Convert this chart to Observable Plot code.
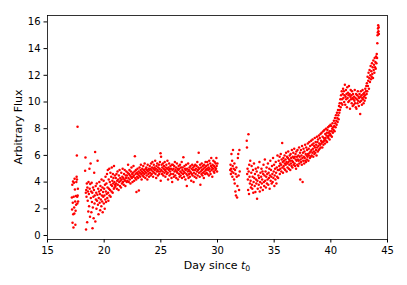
<!DOCTYPE html>
<html><head><meta charset="utf-8">
<script src="https://cdn.jsdelivr.net/npm/d3@7"></script>
<script src="https://cdn.jsdelivr.net/npm/@observablehq/plot@0.6"></script>
<style>body{margin:0;background:#fff;} svg{display:block}</style>
</head><body><div id="chart"></div>
<script>
// [day, flux] pairs, per observing stretch
const segA = [[17.15,2.85],[17.17,1.95],[17.19,3.8],[17.21,0.95],[17.23,2.45],[17.25,4.05],[17.27,1.6],[17.29,0.6],[17.31,2.9],[17.33,3.95],[17.35,2.1],[17.37,1.65],[17.39,4.25],[17.42,3.45],[17.44,2.55],[17.46,0.8],[17.48,1.85],[17.5,2.95],[17.52,2.3],[17.54,4.0],[17.57,4.4],[17.59,6.0],[17.6,4.2],[17.62,2.9],[17.63,2.4],[17.65,8.15],[17.66,3.0],[17.68,3.5],[17.7,2.55]];
const segB = [[18.32,4.85],[18.35,5.85],[18.38,3.2],[18.4,0.45],[18.42,3.4],[18.44,2.9],[18.47,3.9],[18.5,1.0],[18.52,3.6],[18.55,2.6],[18.57,3.3],[18.6,1.8],[18.62,4.0],[18.65,3.1],[18.67,2.2],[18.7,5.0],[18.72,3.5],[18.75,1.4],[18.77,3.85],[18.8,5.4],[18.82,2.8],[18.85,3.3],[18.87,1.75],[18.9,3.95],[18.92,2.5],[18.95,3.2],[18.97,0.55],[19.0,2.1],[19.02,3.6],[19.05,2.9],[19.07,1.3],[19.1,3.4],[19.12,4.7],[19.15,2.4],[19.17,3.0],[19.2,6.25],[19.22,1.05],[19.25,3.7],[19.27,2.7],[19.3,3.2],[19.32,2.0],[19.35,3.9],[19.37,2.6],[19.4,3.05],[19.42,5.6],[19.45,2.3],[19.47,3.5],[19.5,1.6],[19.52,2.8],[19.55,3.3],[19.57,4.0],[19.6,2.45],[19.62,3.1],[19.65,1.9],[19.67,3.7],[19.7,2.7],[19.72,3.4],[19.75,2.2],[19.77,4.2],[19.8,3.0],[19.82,2.55],[19.85,3.6],[19.87,1.75],[19.9,3.25],[19.92,2.9],[19.95,4.1],[19.97,2.4],[20.0,3.5],[20.02,3.0],[20.05,2.0],[20.07,3.8],[20.1,2.7],[20.12,4.4],[20.15,3.3],[20.17,2.5],[20.2,3.9],[20.22,3.1],[20.25,4.6],[20.27,2.8],[20.3,3.6],[20.32,4.9],[20.35,3.2],[20.37,2.6],[20.4,4.2],[20.42,3.5],[20.45,5.0],[20.47,3.0],[20.5,4.0],[20.52,3.4],[20.55,4.7],[20.57,2.9],[20.6,3.8],[20.62,4.4],[20.65,3.3],[20.67,5.1],[20.7,3.7],[20.72,4.1],[20.75,3.2],[20.77,4.6],[20.8,3.9],[20.82,4.3],[20.85,3.5],[20.87,5.2],[20.9,4.0],[20.92,3.6],[20.95,4.5],[20.97,3.8]];
const segC = [[21.0,3.7],[21.03,4.3],[21.06,3.9],[21.09,4.6],[21.12,3.5],[21.15,4.1],[21.18,4.8],[21.21,3.8],[21.24,4.2],[21.27,3.4],[21.3,4.5],[21.33,4.0],[21.36,4.9],[21.39,3.7],[21.42,4.3],[21.45,4.1],[21.48,3.6],[21.51,4.7],[21.54,4.2],[21.57,3.9],[21.6,4.4],[21.63,5.0],[21.66,4.0],[21.69,4.3],[21.72,3.8],[21.75,4.6],[21.78,4.2],[21.81,4.9],[21.84,4.1],[21.87,3.7],[21.9,4.5],[21.93,4.3],[21.96,4.8],[21.99,4.0],
[22.02,4.5],[22.05,4.1],[22.08,4.7],[22.11,5.3],[22.14,4.3],[22.17,4.0],[22.2,4.6],[22.23,4.9],[22.26,4.2],[22.29,4.5],[22.32,3.9],[22.35,4.8],[22.38,4.4],[22.41,5.1],[22.44,4.3],[22.47,4.6],[22.5,4.0],[22.53,4.7],[22.56,4.4],[22.59,5.2],[22.62,4.5],[22.65,4.1],[22.68,4.8],[22.71,5.93],[22.74,4.3],[22.77,4.6],[22.8,4.9],[22.83,4.2],[22.85,3.25],[22.88,4.7],[22.91,4.4],[22.94,5.0],[22.97,4.6],
[23.0,4.3],[23.03,4.8],[23.06,3.37],[23.09,4.5],[23.12,5.1],[23.15,4.7],[23.18,4.4],[23.21,4.9],[23.24,5.3],[23.27,4.6],[23.3,4.2],[23.33,4.8],[23.36,5.0],[23.39,4.5],[23.42,4.7],[23.45,5.2],[23.48,4.4],[23.51,4.9],[23.54,4.6],[23.57,5.4],[23.6,4.8],[23.63,4.3],[23.66,5.0],[23.69,4.7],[23.72,5.1],[23.75,4.5],[23.78,4.9],[23.81,4.2],[23.84,5.3],[23.87,4.8],[23.9,4.6],[23.93,5.0],[23.96,4.4],[23.99,4.9],
[24.02,5.2],[24.05,4.7],[24.08,5.0],[24.11,4.5],[24.14,5.4],[24.17,4.9],[24.2,4.6],[24.23,5.1],[24.26,5.5],[24.29,4.8],[24.32,4.4],[24.35,5.0],[24.38,5.3],[24.41,4.7],[24.44,5.1],[24.47,4.9],[24.5,5.6],[24.53,4.6],[24.56,5.0],[24.59,4.3],[24.62,5.2],[24.65,4.8],[24.68,5.4],[24.71,4.9],[24.74,4.5],[24.77,5.1],[24.8,4.8],[24.83,5.3],[24.86,4.6],[24.89,5.0],[24.92,5.5],[24.95,4.8],[24.97,6.17],[24.99,4.1],
[25.02,5.9],[25.04,4.9],[25.07,5.3],[25.1,4.6],[25.13,5.1],[25.16,4.8],[25.19,5.4],[25.22,4.5],[25.25,5.0],[25.28,5.2],[25.31,4.7],[25.34,5.5],[25.37,4.9],[25.4,4.4],[25.43,5.1],[25.46,4.8],[25.49,5.3],[25.52,4.6],[25.55,5.0],[25.58,5.6],[25.61,4.7],[25.64,4.2],[25.67,5.1],[25.7,4.9],[25.73,5.4],[25.76,4.5],[25.79,5.0],[25.82,4.8],[25.85,5.2],[25.88,4.6],[25.91,5.0],[25.94,4.3],[25.97,5.3],[26.0,4.0],
[26.03,4.9],[26.06,5.3],[26.09,4.6],[26.12,5.0],[26.15,4.4],[26.18,5.2],[26.21,4.8],[26.24,5.5],[26.27,4.5],[26.3,4.9],[26.33,5.1],[26.36,4.3],[26.39,4.8],[26.42,5.4],[26.45,4.7],[26.48,5.0],[26.51,4.2],[26.54,4.9],[26.57,5.2],[26.6,4.6],[26.63,5.0],[26.66,4.4],[26.69,5.3],[26.72,4.8],[26.75,4.5],[26.78,5.1],[26.81,4.7],[26.84,5.5],[26.87,4.3],[26.9,4.9],[26.93,5.1],[26.96,4.6],[26.99,5.87],
[27.02,4.8],[27.05,4.4],[27.08,5.2],[27.11,4.7],[27.14,5.0],[27.17,4.2],[27.2,4.9],[27.23,5.3],[27.26,4.6],[27.29,3.7],[27.32,5.0],[27.35,4.5],[27.38,4.8],[27.41,5.4],[27.44,4.3],[27.47,4.9],[27.5,4.6],[27.53,5.1],[27.56,4.4],[27.59,4.8],[27.62,5.2],[27.65,4.7],[27.68,4.1],[27.71,5.0],[27.74,4.6],[27.77,5.3],[27.8,4.5],[27.83,4.9],[27.86,5.1],[27.89,4.0],[27.92,4.7],[27.95,5.2],[27.98,4.4],
[28.01,4.9],[28.04,5.3],[28.07,4.6],[28.1,5.0],[28.13,4.3],[28.16,5.2],[28.19,4.8],[28.22,5.5],[28.25,4.5],[28.28,4.9],[28.31,5.1],[28.34,6.2],[28.37,4.7],[28.4,5.0],[28.43,4.4],[28.46,5.3],[28.49,3.8],[28.52,4.8],[28.55,5.1],[28.58,4.6],[28.61,5.4],[28.64,4.9],[28.67,4.5],[28.7,5.2],[28.73,4.7],[28.76,5.0],[28.79,4.3],[28.82,5.3],[28.85,4.8],[28.88,5.1],[28.91,4.6],[28.94,5.5],[28.97,4.9],
[29.0,5.2],[29.03,4.7],[29.06,5.0],[29.09,5.5],[29.12,4.6],[29.15,5.3],[29.18,4.9],[29.21,5.1],[29.24,4.5],[29.27,5.6],[29.3,5.0],[29.33,4.8],[29.36,5.4],[29.39,4.6],[29.42,5.2],[29.45,5.8],[29.48,4.9],[29.51,5.1],[29.54,4.4],[29.57,5.3],[29.6,5.0],[29.63,5.6],[29.66,4.8],[29.69,5.2],[29.72,4.7],[29.75,5.5],[29.78,5.1],[29.81,4.9],[29.84,5.4],[29.87,5.0],[29.9,5.8],[29.93,5.2],[29.96,4.8],[29.99,5.4]];
const segD = [[31.12,4.9],[31.15,5.3],[31.18,4.6],[31.2,5.0],[31.23,6.1],[31.26,4.8],[31.29,5.6],[31.31,4.4],[31.34,5.2],[31.37,6.4],[31.4,4.7],[31.43,5.0],[31.46,4.2],[31.49,5.4],[31.52,3.9],[31.55,4.9],[31.58,3.3],[31.6,4.6],[31.63,3.0],[31.66,5.1],[31.7,4.4],[31.73,2.85],[31.76,3.7],[31.8,5.8],[31.83,6.1],[31.86,4.5],[31.9,3.4],[31.93,6.4],[31.96,4.8]];
const segE = [[32.58,7.1],[32.6,6.6],[32.62,4.6],[32.65,5.0],[32.68,4.2],[32.7,3.4],[32.73,7.58],[32.75,4.8],[32.78,3.1],[32.8,5.3],[32.83,4.4],[32.86,3.9],[32.89,5.6],[32.92,4.1],[32.95,3.6],[32.98,4.7],[33.01,5.2],[33.04,3.8],[33.07,3.5],[33.1,4.4],[33.13,4.9],[33.16,3.2],[33.19,4.0],[33.22,5.4],[33.25,4.3],[33.28,3.7],[33.31,4.6],[33.34,3.25],[33.37,5.0],[33.4,4.2],[33.43,3.9],[33.46,4.8],[33.49,2.75],[33.52,4.1],[33.55,3.5],[33.58,5.1],[33.61,4.5],[33.64,3.8],[33.67,4.3],[33.7,5.5],[33.73,3.3],[33.76,4.0],[33.79,4.7],[33.82,3.6],[33.85,4.4],[33.88,5.0],[33.91,3.9],[33.94,4.2],[33.97,4.8],[34.0,3.4],[34.03,4.6],[34.06,5.3],[34.09,4.0],[34.12,3.7],[34.15,4.5],[34.18,5.7],[34.21,4.1],[34.24,4.8],[34.27,3.6],[34.3,4.4],[34.33,5.1],[34.36,3.9],[34.39,4.6],[34.42,4.2],[34.45,5.4],[34.48,3.8],[34.51,4.7],[34.54,4.3],[34.57,5.0],[34.6,3.5],[34.63,4.5],[34.66,5.6],[34.69,4.1],[34.72,4.9],[34.75,4.4],[34.78,3.9],[34.81,5.2],[34.84,4.6],[34.87,4.0],[34.9,5.8],[34.93,4.3],[34.96,4.8],[34.99,5.3],[35.02,3.7],[35.05,4.5],[35.08,5.0],[35.11,4.2],[35.14,5.5],[35.17,4.7],[35.2,3.9],[35.23,5.1],[35.26,4.4],[35.29,6.0],[35.32,4.9],[35.35,4.3]];
const segF = [[35.4,5.6],[35.42,4.9],[35.45,5.2],[35.48,5.9],[35.5,4.6],[35.53,5.4],[35.55,5.0],[35.58,6.1],[35.61,5.3],[35.63,4.8],[35.66,5.7],[35.71,6.92],[35.73,5.1],[35.76,5.5],[35.78,4.7],[35.81,5.8],[35.84,5.2],[35.86,5.6],[35.89,5.0],[35.92,6.0],[35.94,5.4],[35.97,4.9],[36.0,5.7],[36.02,5.3],[36.05,6.2],[36.08,5.5],[36.1,4.8],[36.13,5.9],[36.16,5.4],[36.18,5.1],[36.21,5.8],[36.24,6.3],[36.26,5.5],[36.29,5.0],[36.32,5.7],[36.34,5.3],[36.37,6.0],[36.4,5.6],[36.42,4.9],[36.45,6.1],[36.48,5.4],[36.5,5.8],[36.53,5.2],[36.56,6.4],[36.58,5.6],[36.61,5.1],[36.64,5.9],[36.66,5.5],[36.69,6.2],[36.72,5.3],[36.74,5.8],[36.77,6.5],[36.8,5.4],[36.82,5.9],[36.85,5.2],[36.88,6.1],[36.9,5.7],[36.93,5.0],[36.96,6.3],[36.98,5.6],[37.01,5.9],[37.04,5.3],[37.06,6.4],[37.09,5.7],[37.12,5.2],[37.14,6.0],[37.17,5.6],[37.2,6.6],[37.22,5.4],[37.25,5.9],[37.28,6.2],[37.3,4.2],[37.33,5.7],[37.36,6.4],[37.38,5.5],[37.41,6.0],[37.44,5.3],[37.46,6.7],[37.49,5.8],[37.51,4.0],[37.54,6.2],[37.57,5.6],[37.59,6.5],[37.62,5.9],[37.65,5.4],[37.67,6.3],[37.7,5.8],[37.73,6.8],[37.75,5.6],[37.78,6.1],[37.81,5.5],[37.83,6.6],[37.86,6.0],[37.89,5.7],[37.91,6.4],[37.94,5.9],[37.97,6.9],[37.99,6.1],[38.02,5.6],[38.05,6.5],[38.07,6.0],[38.1,7.0],[38.13,6.2],[38.15,5.8],[38.18,6.7],[38.21,6.3],[38.23,5.9],[38.26,7.1],[38.29,6.4],[38.31,6.0],[38.34,6.8],[38.37,6.2],[38.39,7.2],[38.42,6.5],[38.45,5.9],[38.47,6.9],[38.5,6.3],[38.53,6.7],[38.55,6.1],[38.58,7.3],[38.61,6.6],[38.63,6.2],[38.66,7.0],[38.69,6.4],[38.71,6.8],[38.74,6.0],[38.77,7.4],[38.79,6.6],[38.82,7.0],[38.85,6.3],[38.87,7.2],[38.9,6.7],[38.93,6.4],[38.95,7.5],[38.98,6.9],[39.01,6.5],[39.03,7.3],[39.06,6.8],[39.09,7.6],[39.11,6.6],[39.14,7.1],[39.17,6.9],[39.19,7.7],[39.22,7.0],[39.25,6.6],[39.27,7.4],[39.3,7.0],[39.33,7.8],[39.35,6.8],[39.38,7.3],[39.41,7.1],[39.43,7.9],[39.46,7.2],[39.49,6.9],[39.51,7.6],[39.54,7.3],[39.57,8.0],[39.59,7.1],[39.62,7.5],[39.65,7.7],[39.67,7.0],[39.7,7.9],[39.73,7.4],[39.75,8.1],[39.78,7.3],[39.81,7.7],[39.83,7.5],[39.86,8.2],[39.89,7.2],[39.91,7.8],[39.94,7.6],[39.97,8.3]];
const segG = [[40.0,7.5],[40.03,8.2],[40.06,7.8],[40.09,7.4],[40.12,8.0],[40.15,8.4],[40.18,7.7],[40.21,8.1],[40.24,7.9],[40.27,8.6],[40.3,8.2],[40.33,7.8],[40.36,8.8],[40.39,8.4],[40.42,8.1],[40.45,9.0],[40.48,8.6],[40.51,8.3],[40.54,9.2],[40.57,8.8],[40.6,8.5],[40.63,9.4],[40.66,9.0],[40.69,8.7],[40.72,9.7],[40.75,9.2],[40.78,9.9],[40.81,9.4],[40.84,10.2],[40.87,9.6],[40.9,10.5],[40.93,9.9],[40.96,10.8],[40.99,10.2],[41.02,9.8],[41.05,10.6],[41.08,11.0],[41.11,10.3]];
const segH = [[41.15,10.8],[41.18,10.0],[41.21,10.5],[41.24,11.3],[41.27,9.8],[41.3,10.4],[41.33,10.9],[41.36,10.2],[41.39,10.6],[41.42,9.6],[41.45,11.1],[41.48,10.3],[41.51,10.7],[41.54,10.0],[41.57,10.5],[41.6,11.2],[41.63,10.1],[41.66,10.6],[41.69,9.5],[41.72,10.4],[41.75,10.9],[41.78,10.2],[41.81,10.5],[41.84,9.9],[41.87,10.8],[41.9,10.3],[41.93,9.7],[41.96,10.6],[41.99,10.2],[42.02,9.8],[42.05,10.4],[42.08,10.1],[42.11,10.9],[42.14,9.9],[42.17,10.3],[42.2,9.6],[42.23,10.6],[42.26,9.5],[42.29,10.2],[42.32,10.5],[42.35,9.9],[42.38,10.8],[42.41,10.1],[42.44,10.4],[42.47,9.7],[42.5,10.3],[42.53,10.6],[42.56,10.0],[42.59,9.1],[42.62,10.4],[42.65,10.8],[42.68,10.1],[42.71,10.5],[42.74,9.8],[42.77,10.3],[42.8,10.9],[42.83,10.2],[42.86,10.6],[42.89,9.9],[42.92,10.4],[42.95,10.7],[42.98,10.1],[43.01,10.5],[43.04,11.0],[43.07,10.3],[43.1,10.8],[43.13,11.2],[43.16,10.6]];
const segI = [[43.18,11.4],[43.21,10.8],[43.24,11.9],[43.27,11.2],[43.3,11.6],[43.33,12.2],[43.36,11.0],[43.39,11.8],[43.42,12.4],[43.45,11.5],[43.48,12.0],[43.51,12.7],[43.54,11.7],[43.57,12.3],[43.6,11.9],[43.63,12.9],[43.66,12.1],[43.69,12.6],[43.72,11.8],[43.75,13.1],[43.78,12.4],[43.81,12.8],[43.84,12.2],[43.87,13.3],[43.9,12.6],[43.93,13.0],[43.96,12.5],[43.99,13.4],[44.02,12.9],[44.05,13.6],[44.08,13.3],[44.1,14.4],[44.12,15.0],[44.14,15.2],[44.16,15.5],[44.18,15.75],[44.2,15.3],[44.22,15.6],[44.24,15.1]];

const xTicks = [15, 20, 25, 30, 35, 40, 45];
const yTicks = [0, 2, 4, 6, 8, 10, 12, 14, 16];
const xLabel = "Day since ";
const xLabelVar = "t";
const xLabelSub = "0";
const yLabel = "Arbitrary Flux";

const data = [...segA, ...segB, ...segC, ...segD, ...segE, ...segF, ...segG, ...segH, ...segI]
  .map(([day, flux]) => ({day, flux}));

const W = 407, H = 285, mL = 47, mR = 20, mT = 15, mB = 46;
const chart = Plot.plot({
  width: W, height: H,
  marginLeft: mL, marginRight: mR, marginTop: mT, marginBottom: mB,
  style: {fontFamily: "DejaVu Sans", fontSize: "10px", color: "black", background: "white"},
  x: {domain: [15, 45], ticks: xTicks, tickSize: 3.5, tickPadding: 4, label: null},
  y: {domain: [-0.3, 16.48], ticks: yTicks, tickSize: 3.5, tickPadding: 3.5, label: null},
  marks: [
    Plot.dot(data, {x: "day", y: "flux", r: 1.25, fill: "red", stroke: "none"}),
    Plot.frame({stroke: "black", strokeWidth: 0.8})
  ]
});
document.getElementById("chart").appendChild(chart);

const svg = d3.select(chart);
const xl = svg.append("text")
  .attr("x", (mL + W - mR) / 2).attr("y", 269)
  .attr("text-anchor", "middle")
  .attr("font-family", "DejaVu Sans").attr("font-size", 11).attr("fill", "black");
xl.append("tspan").text(xLabel);
xl.append("tspan").attr("font-style", "italic").text(xLabelVar);
xl.append("tspan").attr("font-size", 7.7).attr("dy", 2).text(xLabelSub);

svg.append("text")
  .attr("transform", `translate(18,${(mT + H - mB) / 2}) rotate(-90)`)
  .attr("text-anchor", "middle").attr("dy", "0.35em")
  .attr("font-family", "DejaVu Sans").attr("font-size", 11).attr("fill", "black")
  .text(yLabel);
</script>
</body></html>
